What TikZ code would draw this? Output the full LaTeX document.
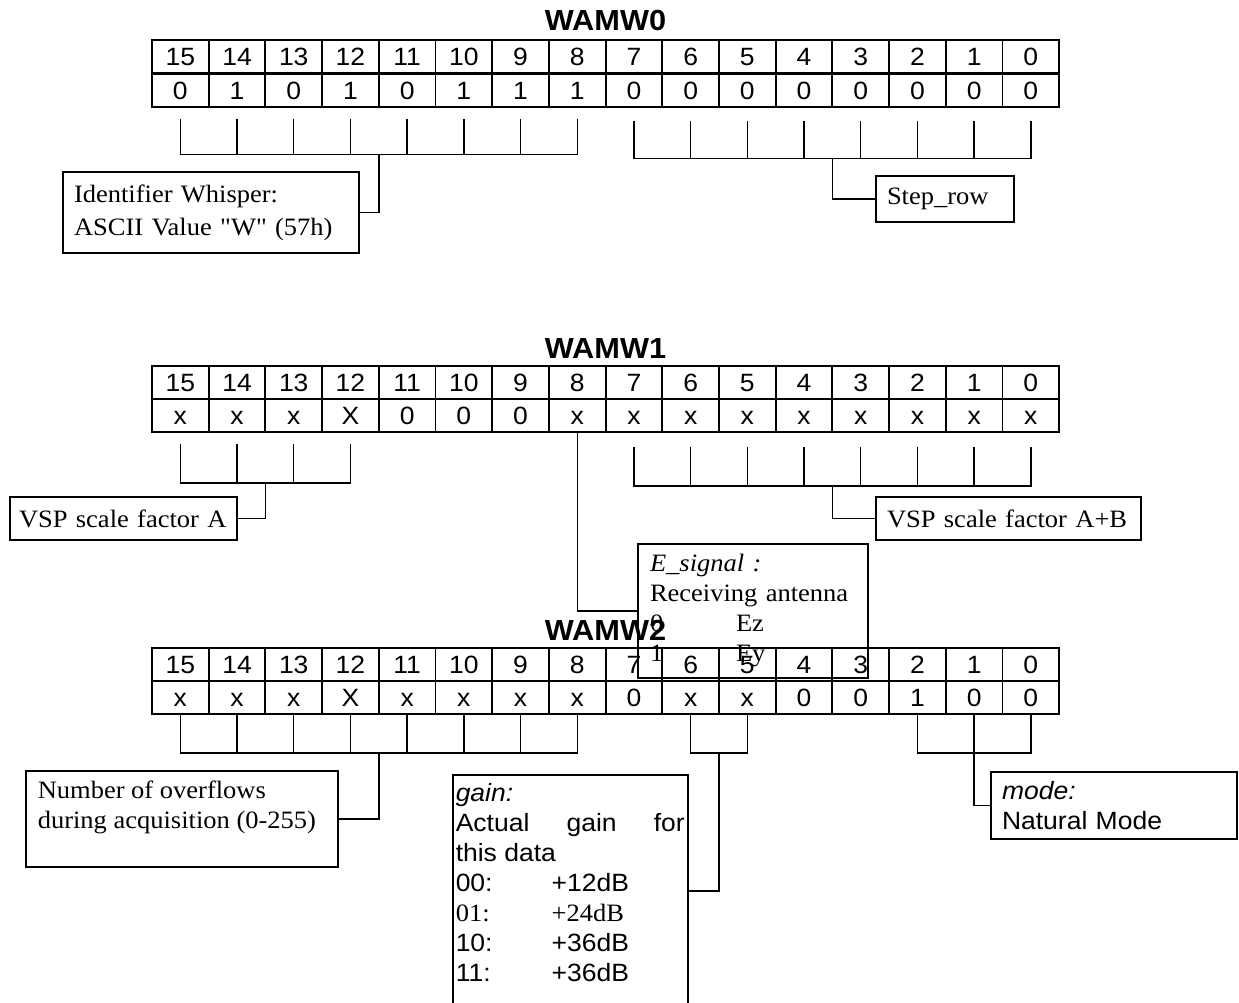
\documentclass[tikz,border=0pt]{standalone}
\usepackage{fontspec}
\newfontfamily\timesfont{Liberation Serif}[FakeStretch=1.06]
\newfontfamily\arialfont{Liberation Sans}[FakeStretch=1.06]
\usetikzlibrary{calc}

\newcommand{\cellfont}{\arialfont\fontsize{25}{28}\selectfont}
\newcommand{\notefont}{\timesfont\fontsize{25}{30}\selectfont}
\newcommand{\titlefont}{\arialfont\bfseries\fontsize{29}{32}\selectfont}

\tikzset{
  bitcell/.style={
    draw, line width=1.9pt, minimum width=56.7pt, minimum height=33pt,
    inner sep=0pt, text height=18pt, text depth=0pt, font=\cellfont
  },
  regtitle/.style={anchor=base, font=\titlefont},
  notebox/.style={
    draw, line width=1.5pt, align=left, inner xsep=11pt, inner ysep=0pt,
    font=\notefont
  },
  brace/.style={line width=1.4pt},
  link/.style={line width=1.5pt}
}

\begin{document}
\begin{tikzpicture}[x=1pt, y=-1pt]
  \useasboundingbox (0,0) rectangle (1239,1003);
  \clip (0,0) rectangle (1239,1003);

  % registers
  \node[regtitle] (t0) at (605.5,31)  {WAMW0};
  \node[regtitle] (t1) at (605.5,358) {WAMW1};
  \node[regtitle] (t2) at (605.5,640) {WAMW2};

  \foreach \v [count=\i from 0] in {0,1,0,1,0,1,1,1,0,0,0,0,0,0,0,0} {
    \pgfmathtruncatemacro{\bitno}{15-\i}
    \node[bitcell] (w0h\bitno) at ({180.35+56.7*\i},56.75) {\bitno};
    \node[bitcell] (w0v\bitno) at ({180.35+56.7*\i},90.25) {\v};
  }
  \foreach \v [count=\i from 0] in {x,x,x,X,0,0,0,x,x,x,x,x,x,x,x,x} {
    \pgfmathtruncatemacro{\bitno}{15-\i}
    \node[bitcell] (w1h\bitno) at ({180.35+56.7*\i},382.5) {\bitno};
    \node[bitcell] (w1v\bitno) at ({180.35+56.7*\i},415.5) {\v};
  }
  \foreach \v [count=\i from 0] in {x,x,x,X,x,x,x,x,0,x,x,0,0,1,0,0} {
    \pgfmathtruncatemacro{\bitno}{15-\i}
    \node[bitcell] (w2h\bitno) at ({180.35+56.7*\i},664.5) {\bitno};
    \node[bitcell] (w2v\bitno) at ({180.35+56.7*\i},697.5) {\v};
  }

  % notes
  \node[notebox, text width=274pt, minimum height=81pt, font=\timesfont\fontsize{25}{33}\selectfont]
    (ident) at (211,212.5) {Identifier Whisper:\\ASCII Value "W" (57h)};
  \node[notebox, text width=116pt, minimum height=46pt] (steprow) at (945,199) {Step\_row};
  \node[notebox, inner xsep=9pt, text width=209pt, minimum height=43pt] (vspa) at (123.5,518.5) {VSP scale factor A};
  \node[notebox, text width=243pt, minimum height=43pt] (vspab) at (1008.5,518.5) {VSP scale factor A+B};
  \node[notebox, inner xsep=12pt, text width=206pt, minimum height=134pt] (esig) at (753,611)
    {\textit{E\_signal :}\\Receiving antenna\\\makebox[86pt][l]{0}Ez\\\makebox[86pt][l]{1}Ey};
  \node[notebox, inner xsep=12pt, inner ysep=10pt, anchor=north west] (ovf) at (25,770)
    {\parbox[c][76pt][t]{288pt}{\raggedright Number of overflows\\during acquisition (0-255)}};
  \node[notebox, inner xsep=3pt, inner ysep=9pt, anchor=north west,
        font=\arialfont\fontsize{25}{30}\selectfont] (gain) at (452,774)
    {\parbox[c][214pt][t]{229pt}{\raggedright
      \textit{gain:}\\
      Actual\hfill gain\hfill for\\
      this data\\
      \makebox[96pt][l]{00:}+12dB\\
      {\timesfont\makebox[96pt][l]{01:}+24dB}\\
      \makebox[96pt][l]{10:}+36dB\\
      \makebox[96pt][l]{11:}+36dB}};
  \node[notebox, text width=224pt, minimum height=67pt,
        font=\arialfont\fontsize{25}{30}\selectfont] (mode) at (1114,805.5)
    {\textit{mode:}\\Natural Mode};

  % brackets of WAMW0
  \draw[brace] ([yshift=-11pt]w0v15.south) |- ([yshift=-47pt]w0v8.south) -- ([yshift=-11pt]w0v8.south);
  \foreach \bitno in {14,13,...,9}
    \draw[brace] ([yshift=-11pt]w0v\bitno.south) -- ([yshift=-47pt]w0v\bitno.south);
  \draw[brace] ([yshift=-13pt]w0v7.south) |- ([yshift=-51pt]w0v0.south) -- ([yshift=-13pt]w0v0.south);
  \foreach \bitno in {6,5,...,1}
    \draw[brace] ([yshift=-13pt]w0v\bitno.south) -- ([yshift=-51pt]w0v\bitno.south);
  \coordinate (s0l) at ($(w0v12.south)!.5!(w0v11.south)+(0,47)$);
  \coordinate (s0r) at ($(w0v4.south)!.5!(w0v3.south)+(0,51)$);
  \draw[link] (s0l) |- (ident.east);
  \draw[link] (s0r) |- (steprow.west);

  % brackets of WAMW1
  \draw[brace] ([yshift=-11pt]w1v15.south) |- ([yshift=-50pt]w1v12.south) -- ([yshift=-11pt]w1v12.south);
  \foreach \bitno in {14,13}
    \draw[brace] ([yshift=-11pt]w1v\bitno.south) -- ([yshift=-50pt]w1v\bitno.south);
  \draw[brace] ([yshift=-14pt]w1v7.south) |- ([yshift=-53pt]w1v0.south) -- ([yshift=-14pt]w1v0.south);
  \foreach \bitno in {6,5,...,1}
    \draw[brace] ([yshift=-14pt]w1v\bitno.south) -- ([yshift=-53pt]w1v\bitno.south);
  \coordinate (s1l) at ($(w1v14.south)!.5!(w1v13.south)+(0,50)$);
  \coordinate (s1r) at ($(w1v4.south)!.5!(w1v3.south)+(0,53)$);
  \draw[link] (s1l) |- (vspa.east);
  \draw[link] (s1r) |- (vspab.west);
  \draw[link] (w1v8.south) |- (esig.west);

  % brackets of WAMW2
  \draw[brace] (w2v15.south) |- ([yshift=-38pt]w2v8.south) -- (w2v8.south);
  \foreach \bitno in {14,13,...,9}
    \draw[brace] (w2v\bitno.south) -- ([yshift=-38pt]w2v\bitno.south);
  \draw[brace] (w2v6.south) |- ([yshift=-38pt]w2v5.south) -- (w2v5.south);
  \draw[brace] (w2v2.south) |- ([yshift=-38pt]w2v0.south) -- (w2v0.south);
  \draw[brace] (w2v1.south) -- ([yshift=-38pt]w2v1.south);
  \coordinate (s2l) at ($(w2v12.south)!.5!(w2v11.south)+(0,38)$);
  \coordinate (s2g) at ($(w2v6.south)!.5!(w2v5.south)+(0,38)$);
  \coordinate (s2m) at ($(w2v1.south)+(0,38)$);
  \draw[link] (s2l) |- (ovf.east);
  \draw[link] (s2g) |- (gain.east);
  \draw[link] (s2m) |- (mode.west);
\end{tikzpicture}
\end{document}
